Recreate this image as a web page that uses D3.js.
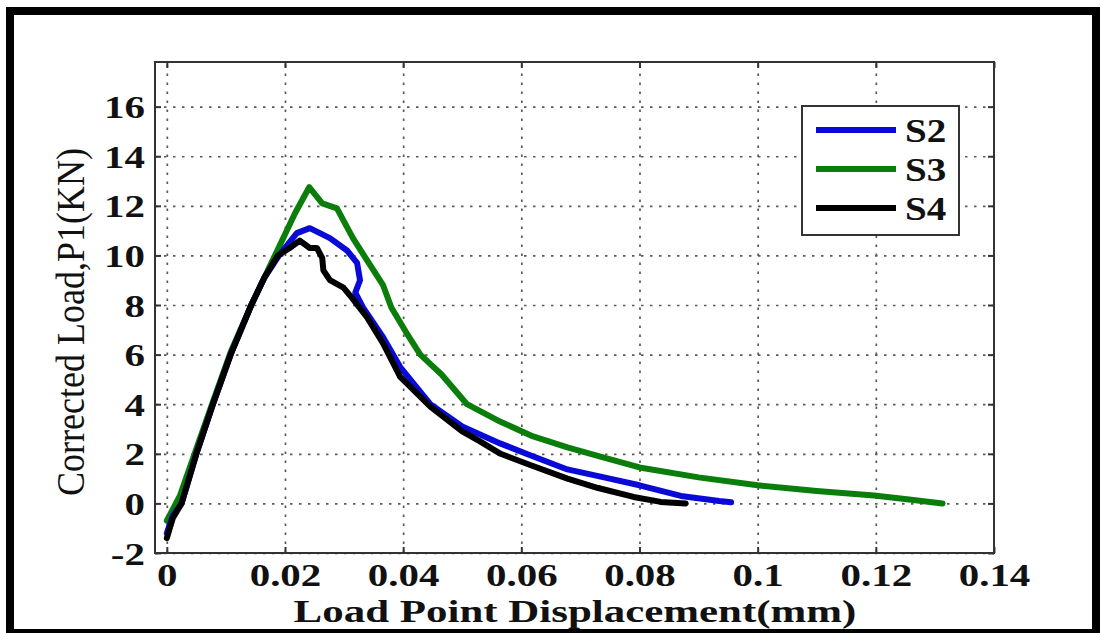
<!DOCTYPE html>
<html>
<head>
<meta charset="utf-8">
<script src="https://cdn.jsdelivr.net/npm/d3@7"></script>
<style>
  body { margin: 0; background: #fff; }
  text { font-family: "Liberation Serif", "Times New Roman", serif; }
</style>
</head>
<body>
<svg width="1102" height="633"></svg>
<script>
// series names (legend order)
const seriesNames = ['S2', 'S3', 'S4'];

// load point displacement (mm), corrected load (kN)
const s2 = [
  [0.0, -1.2], [0.001, -0.5], [0.0025, 0.0], [0.005, 2.0], [0.0078, 4.0], [0.0108, 6.0],
  [0.0143, 8.0], [0.0165, 9.1], [0.019, 10.0], [0.022, 10.9], [0.0242, 11.1], [0.0276, 10.7],
  [0.0305, 10.2], [0.0322, 9.7], [0.0327, 9.0], [0.0319, 8.5], [0.0332, 7.9], [0.0366, 6.7],
  [0.0395, 5.5], [0.0446, 4.0], [0.050, 3.1], [0.0564, 2.42], [0.0615, 1.94], [0.0678, 1.37],
  [0.074, 1.05], [0.080, 0.73], [0.087, 0.3], [0.0935, 0.1], [0.0955, 0.05]
];
const s3 = [
  [0.0, -0.7], [0.0022, 0.3], [0.005, 2.2], [0.0078, 4.1], [0.0108, 6.1], [0.0143, 8.0],
  [0.0185, 10.1], [0.0217, 11.7], [0.0241, 12.75], [0.0263, 12.1], [0.0288, 11.9], [0.0315, 10.7],
  [0.0339, 9.8], [0.0366, 8.8], [0.038, 7.9], [0.0405, 6.9], [0.0429, 6.0], [0.0465, 5.2],
  [0.0508, 4.0], [0.0564, 3.3], [0.062, 2.7], [0.0678, 2.26], [0.074, 1.85], [0.080, 1.45],
  [0.090, 1.05], [0.100, 0.73], [0.110, 0.5], [0.1197, 0.32], [0.126, 0.15], [0.1313, 0.0]
];
const s4 = [
  [0.0, -1.4], [0.001, -0.6], [0.0025, 0.0], [0.005, 2.0], [0.0078, 4.0], [0.0108, 6.0],
  [0.0143, 8.0], [0.0165, 9.1], [0.0188, 10.0], [0.0208, 10.3], [0.0225, 10.6], [0.0242, 10.3],
  [0.0254, 10.3], [0.0263, 9.9], [0.0265, 9.4], [0.0276, 9.0], [0.0299, 8.7], [0.0313, 8.3],
  [0.0339, 7.5], [0.0366, 6.45], [0.0395, 5.1], [0.0446, 3.9], [0.050, 2.9], [0.053, 2.5],
  [0.0565, 2.0], [0.0615, 1.55], [0.0678, 1.0], [0.073, 0.62], [0.079, 0.26], [0.0836, 0.06],
  [0.0878, 0.0]
];

const xTicks = [0, 0.02, 0.04, 0.06, 0.08, 0.1, 0.12, 0.14];
const xTickLabels = ['0', '0.02', '0.04', '0.06', '0.08', '0.1', '0.12', '0.14'];
const yTicks = [-2, 0, 2, 4, 6, 8, 10, 12, 14, 16];
const yTickLabels = ['-2', '0', '2', '4', '6', '8', '10', '12', '14', '16'];

const colors = ['#0a0ad8', '#0a7d0a', '#000000'];

const pLeft = 155, pRight = 994, pTop = 62, pBottom = 553;
const stretch = 1.28;

const svg = d3.select('svg');

// outer frame
svg.append('rect')
  .attr('x', 10).attr('y', 11)
  .attr('width', 1086).attr('height', 622)
  .attr('fill', '#fff')
  .attr('stroke', '#000')
  .attr('stroke-width', 8);

const x = d3.scaleLinear().domain([-0.002, 0.14]).range([pLeft, pRight]);
const y = d3.scaleLinear().domain([-2, 17.8]).range([pBottom, pTop]);

// grid
const grid = svg.append('g').attr('class', 'grid');
grid.append('g')
  .attr('transform', `translate(0,${pBottom})`)
  .call(d3.axisBottom(x).tickValues(xTicks.filter(d => d < 0.14)).tickSize(-(pBottom - pTop)).tickFormat(''));
grid.append('g')
  .attr('transform', `translate(${pLeft},0)`)
  .call(d3.axisLeft(y).tickValues(yTicks).tickSize(-(pRight - pLeft)).tickFormat(''));
grid.selectAll('.domain').remove();
grid.selectAll('line')
  .attr('stroke', '#5a5a5a')
  .attr('stroke-width', 1.7)
  .attr('stroke-dasharray', '2.5,6.5');

// curves
const line = d3.line().x(d => x(d[0])).y(d => y(d[1]));
const series = [s3, s2, s4];
const seriesColors = [colors[1], colors[0], colors[2]];
series.forEach((s, i) => {
  svg.append('path')
    .datum(s)
    .attr('d', line)
    .attr('fill', 'none')
    .attr('stroke', seriesColors[i])
    .attr('stroke-width', 6)
    .attr('stroke-linejoin', 'round')
    .attr('stroke-linecap', 'round');
});

// axes box with inward ticks
const axes = svg.append('g');
const xb = axes.append('g').attr('transform', `translate(0,${pBottom})`)
  .call(d3.axisBottom(x).tickValues(xTicks).tickSize(-6).tickSizeOuter(0)
    .tickFormat((d, i) => xTickLabels[i]));
axes.append('g').attr('transform', `translate(0,${pTop})`)
  .call(d3.axisTop(x).tickValues(xTicks).tickSize(-6).tickSizeOuter(0).tickFormat(''));
const yl = axes.append('g').attr('transform', `translate(${pLeft},0)`)
  .call(d3.axisLeft(y).tickValues(yTicks).tickSize(-6).tickSizeOuter(0)
    .tickFormat((d, i) => yTickLabels[i]));
axes.append('g').attr('transform', `translate(${pRight},0)`)
  .call(d3.axisRight(y).tickValues(yTicks).tickSize(-6).tickSizeOuter(0).tickFormat(''));
axes.selectAll('.domain').remove();
axes.selectAll('line').attr('stroke', '#333').attr('stroke-width', 2);

axes.append('rect')
  .attr('x', pLeft).attr('y', pTop)
  .attr('width', pRight - pLeft).attr('height', pBottom - pTop)
  .attr('fill', 'none')
  .attr('stroke', '#333')
  .attr('stroke-width', 2);

xb.selectAll('text')
  .attr('x', null).attr('y', null).attr('dy', null)
  .attr('transform', `translate(0,33) scale(${stretch},1)`)
  .attr('text-anchor', 'middle')
  .attr('font-size', 32)
  .attr('font-weight', 'bold')
  .attr('fill', '#111');

yl.selectAll('text')
  .attr('x', null).attr('dy', null)
  .attr('transform', `translate(-10,11) scale(${stretch},1)`)
  .attr('text-anchor', 'end')
  .attr('font-size', 32)
  .attr('font-weight', 'bold')
  .attr('fill', '#111');

// axis titles
svg.append('text')
  .attr('transform', `translate(575,622) scale(1.385,1)`)
  .attr('text-anchor', 'middle')
  .attr('font-size', 31)
  .attr('font-weight', 'bold')
  .attr('fill', '#111')
  .text('Load Point Displacement(mm)');

svg.append('text')
  .attr('transform', `translate(84,322) scale(1.12,1) rotate(-90)`)
  .attr('text-anchor', 'middle')
  .attr('font-size', 36)
  .attr('fill', '#111')
  .text('Corrected Load,P1(KN)');

// legend
const legend = svg.append('g').attr('transform', 'translate(802,106)');
legend.append('rect')
  .attr('width', 157).attr('height', 129)
  .attr('fill', '#fff')
  .attr('stroke', '#333')
  .attr('stroke-width', 2);
seriesNames.forEach((name, i) => {
  const ly = 24 + i * 39;
  legend.append('line')
    .attr('x1', 14).attr('x2', 94)
    .attr('y1', ly).attr('y2', ly)
    .attr('stroke', colors[i])
    .attr('stroke-width', 6);
  legend.append('text')
    .attr('transform', `translate(103,${ly + 12}) scale(1.15,1)`)
    .attr('font-size', 34)
    .attr('font-weight', 'bold')
    .attr('fill', '#111')
    .text(name);
});
</script>
</body>
</html>
